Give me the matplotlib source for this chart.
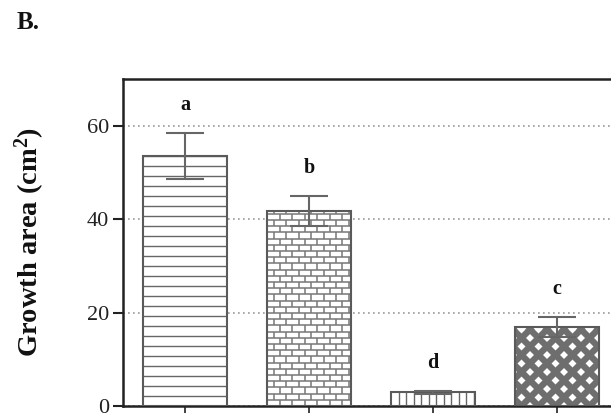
import numpy as np
import matplotlib
matplotlib.use("Agg")
import matplotlib.pyplot as plt
from matplotlib.collections import LineCollection

# ---- data ----
groups = ["", "", "", ""]          # category labels lie below the visible crop
means = [53.6, 41.8, 2.9, 16.9]
errors = [4.9, 3.2, 0.3, 2.1]
letters = ["a", "b", "d", "c"]
yticks = [0, 20, 40, 60]
ylabel = "Growth area (cm$^{2}$)"
panel = "B."

plt.rcParams["font.family"] = ["Liberation Serif", "DejaVu Serif"]
plt.rcParams["mathtext.default"] = "regular"

W, H = 611, 419
fig = plt.figure(figsize=(W / 100, H / 100), dpi=100)
ax_left, ax_bottom, ax_w, ax_h = 123, 406, 496, 327
ax = fig.add_axes([ax_left / W, 1 - ax_bottom / H, ax_w / W, ax_h / H])

XMIN, XMAX, YMIN, YMAX = -0.5, 3.5, 0, 70
ax.set_xlim(XMIN, XMAX)
ax.set_ylim(YMIN, YMAX)
sx = (XMAX - XMIN) / ax_w   # data per pixel (x)
sy = (YMAX - YMIN) / ax_h   # data per pixel (y)

x = np.arange(len(means))
bw = 0.67
grey = "#5a5a5a"

bars = ax.bar(x, means, width=bw, color="white", edgecolor="none", zorder=2)


def add_texture(bar, segs_px, lw, color):
    x0 = bar.get_x()
    segs = [[(x0 + a * sx, b * sy) for (a, b) in s] for s in segs_px]
    lc = LineCollection(segs, colors=color, linewidths=lw, zorder=3)
    ax.add_collection(lc)
    lc.set_clip_path(bar)


def bar_px(bar):
    return bar.get_width() / sx, bar.get_height() / sy


# bar 1: horizontal lines
b = bars[0]
wpx, hpx = bar_px(b)
segs = [[(0, y), (wpx, y)] for y in np.arange(10, hpx, 10)]
add_texture(b, segs, 1.0, "#666666")

# bar 2: bricks
b = bars[1]
wpx, hpx = bar_px(b)
rh, bl = 6.2, 12.5
segs = []
for i, y in enumerate(np.arange(0, hpx, rh)):
    segs.append([(0, y), (wpx, y)])
    off = 0 if i % 2 == 0 else bl / 2
    for xx in np.arange(off, wpx, bl):
        segs.append([(xx, y), (xx, min(y + rh, hpx))])
add_texture(b, segs, 1.1, "#777777")

# bar 3: vertical lines
b = bars[2]
wpx, hpx = bar_px(b)
segs = [[(xx, 0), (xx, hpx)] for xx in np.arange(7.5, wpx, 7.5)]
add_texture(b, segs, 1.0, "#666666")

# bar 4: diamond crosshatch
b = bars[3]
wpx, hpx = bar_px(b)
segs = []
for c in np.arange(-hpx - 17, wpx + hpx + 17, 17):
    segs.append([(c, 0), (c + hpx, hpx)])
    segs.append([(c, 0), (c - hpx, hpx)])
add_texture(b, segs, 4.6, "#6e6e6e")

# outlines
ax.bar(x, means, width=bw, fill=False, edgecolor=grey, linewidth=1.5, zorder=4)

ax.errorbar(x, means, yerr=errors, fmt="none", ecolor="#666666",
            elinewidth=1.5, capsize=14, capthick=1.5, zorder=5)

for xi, m, e, t in zip(x, means, errors, letters):
    ax.text(xi, m + e + 6, t, ha="center", va="center", fontsize=14.5,
            fontweight="bold", color="#111111")

ax.set_yticks(yticks)
ax.set_xticks(x)
ax.set_xticklabels(groups)
ax.yaxis.grid(True, linestyle=(0, (1, 2)), color="#999999", linewidth=1.2)
ax.set_axisbelow(True)
ax.tick_params(axis="y", direction="out", length=7, width=1.5, pad=3,
               labelsize=16, colors="#222222")
ax.tick_params(axis="x", direction="out", length=5, width=1.2, colors="#222222")
for s in ax.spines.values():
    s.set_linewidth(1.8)
    s.set_color("#222222")

ax.set_ylabel(ylabel, fontsize=20.5, fontweight="bold", color="#111111")
ax.yaxis.set_label_coords(-0.153, 0.5)

fig.text(17 / W, 1 - 29 / H, panel, fontsize=18, fontweight="bold",
         ha="left", va="baseline", color="#111111")

fig.savefig("out.png", dpi=100)
